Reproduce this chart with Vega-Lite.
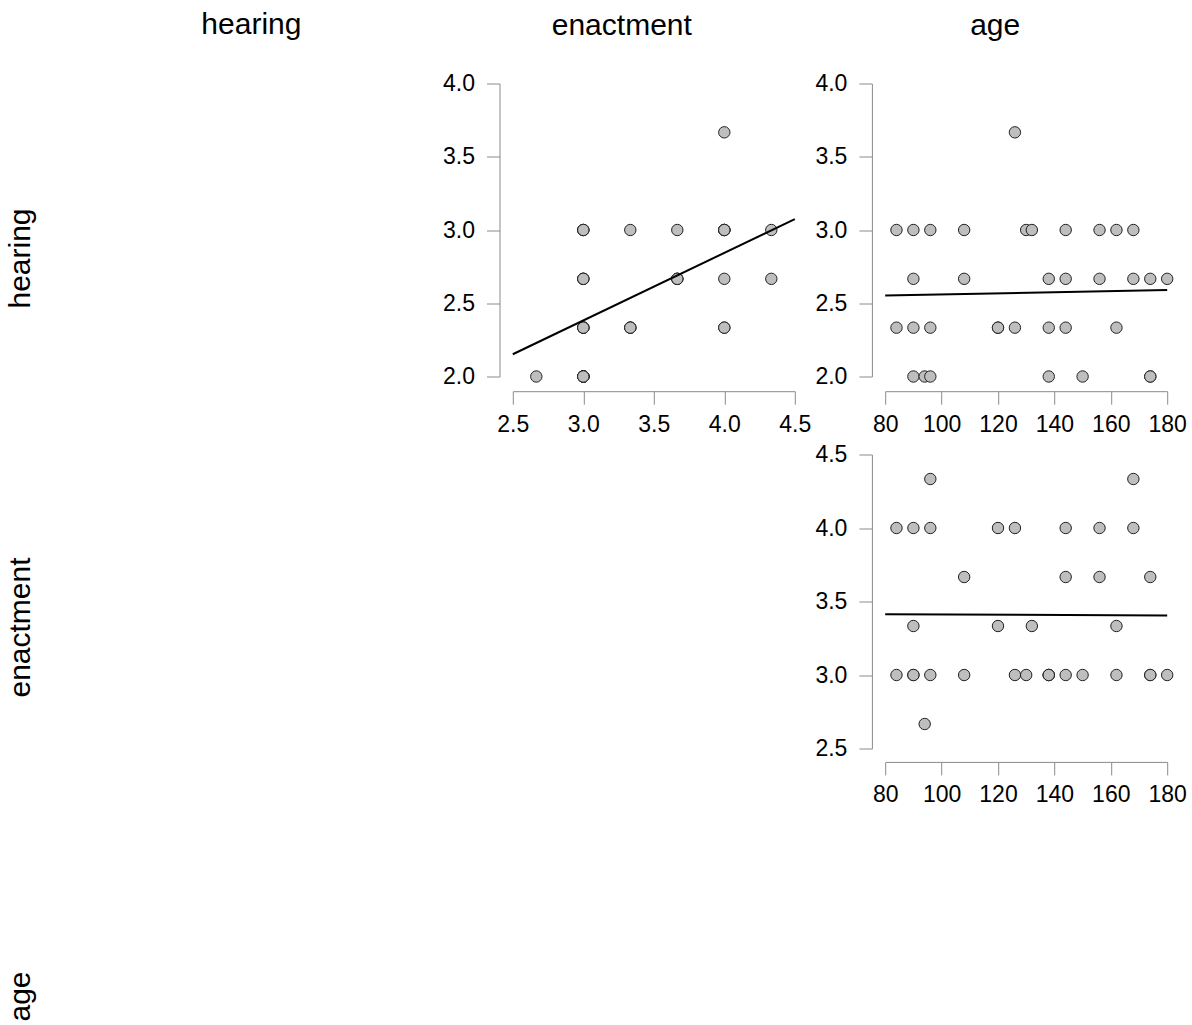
{
  "$schema": "https://vega.github.io/schema/vega-lite/v6.json",
  "autosize": {"type": "pad"},
  "padding": {"left": 5, "top": 9.5, "right": 0, "bottom": 0},
  "config": {
    "font": "Liberation Sans",
    "view": {"stroke": null},
    "axis": {
      "grid": false,
      "title": null,
      "domainColor": "#8a8a8a",
      "domainWidth": 1,
      "tickColor": "#8a8a8a",
      "tickWidth": 1,
      "tickSize": 13,
      "labelFont": "Liberation Sans",
      "labelFontSize": 23,
      "labelColor": "#000000",
      "labelOverlap": false,
      "labelFlush": false
    },
    "axisX": {"labelPadding": 9},
    "axisY": {"labelPadding": 12},
    "title": {"font": "Liberation Sans", "fontSize": 30, "fontWeight": "normal", "color": "#000000"}
  },
  "datasets": {
    "subjects": [
      {"age": 84, "enactment": 4, "hearing": 3},
      {"age": 84, "enactment": 3, "hearing": 2.333333},
      {"age": 90, "enactment": 4, "hearing": 3},
      {"age": 90, "enactment": 3.333333, "hearing": 2.333333},
      {"age": 90, "enactment": 3, "hearing": 2.666667},
      {"age": 90, "enactment": 3, "hearing": 2},
      {"age": 94, "enactment": 2.666667, "hearing": 2},
      {"age": 96, "enactment": 4.333333, "hearing": 3},
      {"age": 96, "enactment": 4, "hearing": 2.333333},
      {"age": 96, "enactment": 3, "hearing": 2},
      {"age": 108, "enactment": 3.666667, "hearing": 2.666667},
      {"age": 108, "enactment": 3, "hearing": 3},
      {"age": 120, "enactment": 4, "hearing": 2.333333},
      {"age": 120, "enactment": 3.333333, "hearing": 2.333333},
      {"age": 126, "enactment": 4, "hearing": 3.666667},
      {"age": 126, "enactment": 3, "hearing": 2.333333},
      {"age": 130, "enactment": 3, "hearing": 3},
      {"age": 132, "enactment": 3.333333, "hearing": 3},
      {"age": 138, "enactment": 3, "hearing": 2.666667},
      {"age": 138, "enactment": 3, "hearing": 2.333333},
      {"age": 138, "enactment": 3, "hearing": 2},
      {"age": 144, "enactment": 4, "hearing": 3},
      {"age": 144, "enactment": 3.666667, "hearing": 2.666667},
      {"age": 144, "enactment": 3, "hearing": 2.333333},
      {"age": 150, "enactment": 3, "hearing": 2},
      {"age": 156, "enactment": 4, "hearing": 2.666667},
      {"age": 156, "enactment": 3.666667, "hearing": 3},
      {"age": 162, "enactment": 3.333333, "hearing": 2.333333},
      {"age": 162, "enactment": 3, "hearing": 3},
      {"age": 168, "enactment": 4.333333, "hearing": 2.666667},
      {"age": 168, "enactment": 4, "hearing": 3},
      {"age": 174, "enactment": 3.666667, "hearing": 2.666667},
      {"age": 174, "enactment": 3, "hearing": 2},
      {"age": 174, "enactment": 3, "hearing": 2},
      {"age": 180, "enactment": 3, "hearing": 2.666667}
    ]
  },
  "bounds": "flush",
  "columns": 4,
  "spacing": {"row": 25, "column": 90.4},
  "concat": [
    {
      "width": 1,
      "height": 346,
      "title": {"text": "hearing", "orient": "left", "anchor": "middle", "offset": 13, "dx": -2},
      "data": {"values": []},
      "mark": "point"
    },
    {
      "width": 282,
      "height": 293,
      "title": {"text": "hearing", "anchor": "middle", "dx": -30, "offset": 44},
      "data": {"values": []},
      "mark": "point"
    },
    {
      "width": 282,
      "height": 293,
      "title": {"text": "enactment", "anchor": "middle", "dx": -32, "offset": 32},
      "data": {"name": "subjects"},
      "layer": [
        {
          "mark": {"type": "point", "shape": "circle", "filled": true, "fill": "#bebebe", "stroke": "#222222", "strokeWidth": 1, "size": 130, "opacity": 1, "clip": false},
          "encoding": {
            "x": {"field": "enactment", "type": "quantitative",
                  "scale": {"domain": [2.5, 4.5], "nice": false, "zero": false},
                  "axis": {"values": [2.5, 3, 3.5, 4, 4.5], "format": ".1f", "offset": 14.7}},
            "y": {"field": "hearing", "type": "quantitative",
                  "scale": {"domain": [2, 4], "nice": false, "zero": false},
                  "axis": {"values": [2, 2.5, 3, 3.5, 4], "format": ".1f", "offset": 13.3}}
          }
        },
        {
          "transform": [{"regression": "hearing", "on": "enactment", "extent": [2.5, 4.5]}],
          "mark": {"type": "line", "color": "#000000", "strokeWidth": 2, "clip": false},
          "encoding": {
            "x": {"field": "enactment", "type": "quantitative"},
            "y": {"field": "hearing", "type": "quantitative"}
          }
        }
      ]
    },
    {
      "width": 282,
      "height": 293,
      "title": {"text": "age", "anchor": "middle", "dx": -31, "offset": 32},
      "data": {"name": "subjects"},
      "layer": [
        {
          "mark": {"type": "point", "shape": "circle", "filled": true, "fill": "#bebebe", "stroke": "#222222", "strokeWidth": 1, "size": 130, "opacity": 1, "clip": false},
          "encoding": {
            "x": {"field": "age", "type": "quantitative",
                  "scale": {"domain": [80, 180], "nice": false, "zero": false},
                  "axis": {"values": [80, 100, 120, 140, 160, 180], "format": "d", "offset": 14.7}},
            "y": {"field": "hearing", "type": "quantitative",
                  "scale": {"domain": [2, 4], "nice": false, "zero": false},
                  "axis": {"values": [2, 2.5, 3, 3.5, 4], "format": ".1f", "offset": 13.3}}
          }
        },
        {
          "transform": [{"regression": "hearing", "on": "age", "extent": [80, 180]}],
          "mark": {"type": "line", "color": "#000000", "strokeWidth": 2, "clip": false},
          "encoding": {
            "x": {"field": "age", "type": "quantitative"},
            "y": {"field": "hearing", "type": "quantitative"}
          }
        }
      ]
    },
    {
      "width": 1,
      "height": 346,
      "title": {"text": "enactment", "orient": "left", "anchor": "middle", "offset": 13},
      "data": {"values": []},
      "mark": "point"
    },
    {
      "width": 282,
      "height": 293,
      "data": {"values": []},
      "mark": "point"
    },
    {
      "width": 282,
      "height": 293,
      "data": {"values": []},
      "mark": "point"
    },
    {
      "width": 282,
      "height": 294,
      "data": {"name": "subjects"},
      "layer": [
        {
          "mark": {"type": "point", "shape": "circle", "filled": true, "fill": "#bebebe", "stroke": "#222222", "strokeWidth": 1, "size": 130, "opacity": 1, "clip": false},
          "encoding": {
            "x": {"field": "age", "type": "quantitative",
                  "scale": {"domain": [80, 180], "nice": false, "zero": false},
                  "axis": {"values": [80, 100, 120, 140, 160, 180], "format": "d", "offset": 13.4}},
            "y": {"field": "enactment", "type": "quantitative",
                  "scale": {"domain": [2.5, 4.5], "nice": false, "zero": false},
                  "axis": {"values": [2.5, 3, 3.5, 4, 4.5], "format": ".1f", "offset": 13.3}}
          }
        },
        {
          "transform": [{"regression": "enactment", "on": "age", "extent": [80, 180]}],
          "mark": {"type": "line", "color": "#000000", "strokeWidth": 2, "clip": false},
          "encoding": {
            "x": {"field": "age", "type": "quantitative"},
            "y": {"field": "enactment", "type": "quantitative"}
          }
        }
      ]
    },
    {
      "width": 1,
      "height": 196,
      "title": {"text": "age", "orient": "left", "anchor": "start", "offset": 13},
      "data": {"values": []},
      "mark": "point"
    }
  ]
}
